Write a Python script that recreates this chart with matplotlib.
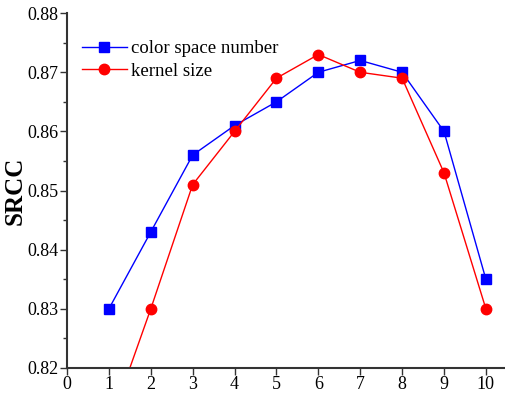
import matplotlib
matplotlib.use("Agg")
from matplotlib import pyplot as plt
from matplotlib.ticker import MultipleLocator

x_vals = [1, 2, 3, 4, 5, 6, 7, 8, 9, 10]
color_space = [0.830, 0.843, 0.856, 0.861, 0.865, 0.870, 0.872, 0.870, 0.860, 0.835]
kernel_size = [0.810, 0.830, 0.851, 0.860, 0.869, 0.873, 0.870, 0.869, 0.853, 0.830]
x_ticks = list(range(0, 11))
y_ticks = [0.82, 0.83, 0.84, 0.85, 0.86, 0.87, 0.88]

plt.rcParams["font.family"] = ["Liberation Serif", "DejaVu Serif"]

fig = plt.figure(figsize=(5.06, 3.98), dpi=100)
ax = fig.add_axes([0.1324, 0.0754, 0.8676, 0.8916])

ax.plot(x_vals, color_space, color="blue", marker="s", markersize=6.5, lw=1,
        label="color space number", clip_on=True)
ax.plot(x_vals, kernel_size, color="red", marker="o", markersize=7.5, lw=1,
        label="kernel size", clip_on=True)

ax.set_xlim(0, 10.48)
ax.set_ylim(0.82, 0.88)
ax.set_xticks(x_ticks)
ax.set_yticks(y_ticks)
ax.set_yticklabels([f"{v:.2f}" for v in y_ticks])
ax.yaxis.set_minor_locator(MultipleLocator(0.005))
ax.tick_params(axis="both", which="major", labelsize=13, direction="out",
               length=5, width=1, color="#333333")
ax.tick_params(axis="y", which="minor", direction="out", length=3, width=1,
               color="#333333")
ax.tick_params(axis="both", pad=1)

for side in ["top", "right"]:
    ax.spines[side].set_visible(False)
for side in ["left", "bottom"]:
    ax.spines[side].set_linewidth(1.5)
    ax.spines[side].set_color("#333333")

ax.set_ylabel("SRCC", fontsize=18, fontweight="bold", labelpad=1)

ax.legend(loc="upper left", bbox_to_anchor=(0.017, 0.945), frameon=False,
          fontsize=13.5, handlelength=2.4, handletextpad=0.2, labelspacing=0.3,
          borderaxespad=0)

fig.savefig("out.png", dpi=100)
